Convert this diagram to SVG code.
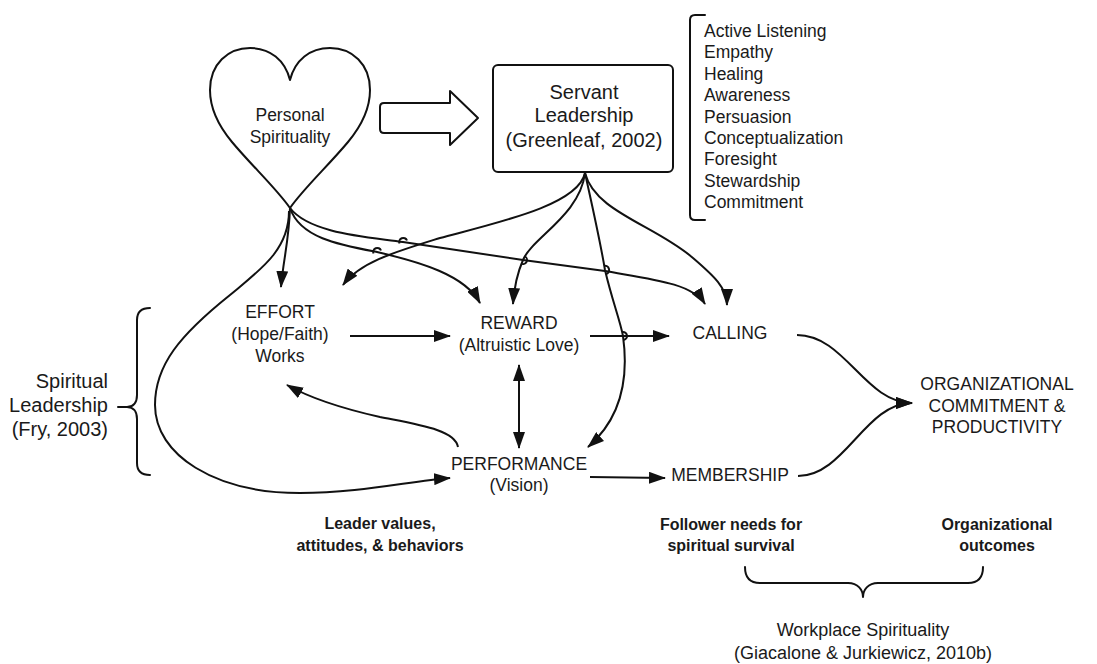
<svg xmlns="http://www.w3.org/2000/svg" width="1097" height="664" viewBox="0 0 1097 664">
<style>
text{font-family:"Liberation Sans",Arial,sans-serif;fill:#1a1a1a;text-anchor:middle}
.n{font-size:17.5px}
.l{font-size:17.5px;text-anchor:start}
.b{font-size:16px;font-weight:bold}
.big{font-size:20px}
.w{font-size:18px}
.s{fill:none;stroke:#111;stroke-width:2;stroke-linecap:round;stroke-linejoin:round}
.c{fill:none;stroke:#111;stroke-width:2}
.a{marker-end:url(#ah)}
</style>
<defs>
<marker id="ah" viewBox="0 0 17 12" refX="16" refY="6" markerWidth="17" markerHeight="12" markerUnits="userSpaceOnUse" orient="auto-start-reverse">
<path d="M0,0 L17,6 L0,12 z" fill="#111"/>
</marker>
</defs>
<rect width="1097" height="664" fill="#fff"/>

<g id="personal-spirituality">
<path class="s" d="M290,208 C276,188 252,166 232,142 C217,124 210,108 210,90 C210,64 228,48 250,48 C270,48 285,60 290,80 C295,60 310,48 330,48 C352,48 370,64 370,90 C370,108 363,124 348,142 C328,166 304,188 290,208"/>
<text class="n" x="290" y="121">Personal</text>
<text class="n" x="290" y="143">Spirituality</text>
</g>

<g id="block-arrow">
<path class="s" d="M384,103 L450,103 L450,91 L478,118 L450,145 L450,133 L384,133 Q380,133 380,129 L380,107 Q380,103 384,103 Z"/>
</g>

<g id="servant-leadership">
<rect class="s" x="493" y="65" width="180" height="107" rx="5"/>
<text class="big" x="584" y="99">Servant</text>
<text class="big" x="584" y="122">Leadership</text>
<text class="big" x="584" y="147">(Greenleaf, 2002)</text>
</g>

<g id="servant-traits">
<path class="s" d="M705,15 L695,15 Q690,15 690,20 L690,215 Q690,220 695,220 L705,220"/>
<text class="l" x="704" y="37">Active Listening</text>
<text class="l" x="704" y="58.3">Empathy</text>
<text class="l" x="704" y="79.7">Healing</text>
<text class="l" x="704" y="101.1">Awareness</text>
<text class="l" x="704" y="122.5">Persuasion</text>
<text class="l" x="704" y="143.9">Conceptualization</text>
<text class="l" x="704" y="165.3">Foresight</text>
<text class="l" x="704" y="186.7">Stewardship</text>
<text class="l" x="704" y="208.1">Commitment</text>
</g>

<g id="effort">
<text class="n" x="280" y="318">EFFORT</text>
<text class="n" x="280" y="340">(Hope/Faith)</text>
<text class="n" x="280" y="362">Works</text>
</g>
<g id="reward">
<text class="n" x="519" y="329">REWARD</text>
<text class="n" x="519" y="351">(Altruistic Love)</text>
</g>
<g id="calling">
<text class="n" x="730" y="339">CALLING</text>
</g>
<g id="performance">
<text class="n" x="519" y="470">PERFORMANCE</text>
<text class="n" x="519" y="491">(Vision)</text>
</g>
<g id="membership">
<text class="n" x="730" y="481">MEMBERSHIP</text>
</g>
<g id="organizational-commitment">
<text class="n" x="997" y="390">ORGANIZATIONAL</text>
<text class="n" x="997" y="412">COMMITMENT &amp;</text>
<text class="n" x="997" y="433">PRODUCTIVITY</text>
</g>

<g id="spiritual-leadership">
<path class="s" d="M150,308 C142,308 137,312 137,320 L137,395 C137,403 133,407 127,407 L118,407 M127,407 C133,407 137,411 137,419 L137,463 C137,471 142,475 150,475"/>
<text class="big" x="108" y="388" style="text-anchor:end">Spiritual</text>
<text class="big" x="108" y="412" style="text-anchor:end">Leadership</text>
<text class="big" x="108" y="436" style="text-anchor:end">(Fry, 2003)</text>
</g>

<g id="category-labels">
<text class="b" x="380" y="529">Leader values,</text>
<text class="b" x="380" y="551">attitudes, &amp; behaviors</text>
<text class="b" x="731" y="530">Follower needs for</text>
<text class="b" x="731" y="551">spiritual survival</text>
<text class="b" x="997" y="530">Organizational</text>
<text class="b" x="997" y="551">outcomes</text>
</g>

<g id="workplace-spirituality">
<path class="s" d="M745,567 C745,578 750,583 760,583 L848,583 C858,583 863,590 863,597 C863,590 868,583 878,583 L968,583 C978,583 983,578 983,567"/>
<text class="w" x="863" y="636">Workplace Spirituality</text>
<text class="w" x="863" y="659">(Giacalone &amp; Jurkiewicz, 2010b)</text>
</g>

<g id="connectors">
<!-- heart connectors -->
<path class="c a" d="M290,208 C289,240 283,262 281,287"/>
<path class="c a" d="M290,208 C300,238 340,245 377,252 C420,262 465,275 480,303"/>
<path class="c a" d="M290,208 C310,234 370,237 403,242 L523,260 L605,271 C650,279 692,283 705,304"/>
<path class="c a" d="M289,211 C289,250 260,270 230,295 C180,335 155,365 155,405 C155,455 215,493 300,493 C360,493 410,481 450,478"/>
<!-- servant connectors -->
<path class="c a" d="M585,173 C578,205 500,222 440,238 C395,252 360,262 343,285"/>
<path class="c a" d="M585,173 C580,215 532,238 523,260 C516,276 514,290 513,304"/>
<path class="c a" d="M585,173 C592,205 600,240 605,270 C612,300 620,320 623,336 C628,372 625,415 588,447"/>
<path class="c a" d="M585,173 C595,212 655,225 693,258 C714,276 727,288 727,305"/>
<!-- main flow -->
<path class="c a" d="M350,336 L450,336"/>
<path class="c a" d="M590,336 L669,336"/>
<path class="c a" d="M519,365 L519,448" style="marker-start:url(#ah)"/>
<path class="c a" d="M458,447 C455,430 420,425 380,417 C340,408 310,398 287,385"/>
<path class="c a" d="M590,477 L665,478"/>
<path class="c a" d="M797,335 C845,335 865,403 912,403"/>
<path class="c a" d="M798,476 C845,476 865,403 912,403"/>
<!-- hops -->
<path class="c" d="M407,240.5 A4,4 0 0 0 399.5,243.5"/>
<path class="c" d="M381,250.5 A4,4 0 0 0 373.5,253.5"/>
<path class="c" d="M525,256.5 A4,4 0 0 1 521,263.5"/>
<path class="c" d="M604,266 A4,4 0 0 1 606,274"/>
<path class="c" d="M622.5,332 A4,4 0 0 1 623.5,340"/>
</g>
</svg>
